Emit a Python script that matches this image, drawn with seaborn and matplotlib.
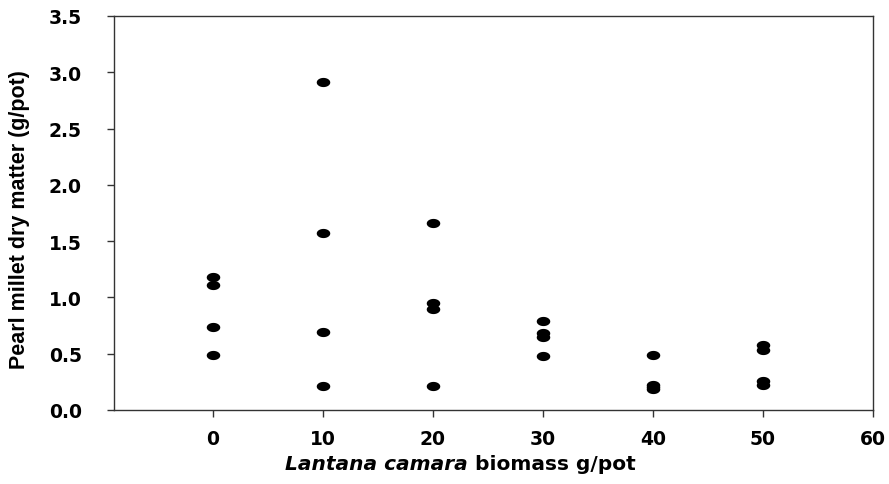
import matplotlib
matplotlib.use('Agg')
import matplotlib.pyplot as plt
import seaborn as sns
import numpy as np
import pandas as pd

# Lantana camara biomass (g/pot) and pearl millet dry matter (g/pot)
biomass = [0, 0, 0, 0,
           10, 10, 10, 10,
           20, 20, 20, 20,
           30, 30, 30, 30,
           40, 40, 40, 40,
           50, 50, 50, 50]
dry_matter = [1.18, 1.11, 0.74, 0.49,
              2.91, 1.57, 0.69, 0.21,
              1.66, 0.95, 0.90, 0.21,
              0.79, 0.68, 0.65, 0.48,
              0.49, 0.22, 0.20, 0.19,
              0.58, 0.53, 0.26, 0.22]
x_ticks = [0, 10, 20, 30, 40, 50, 60]
y_ticks = [0.0, 0.5, 1.0, 1.5, 2.0, 2.5, 3.0, 3.5]

df = pd.DataFrame({'biomass': biomass, 'dry_matter': dry_matter})

sns.set_style('ticks')
plt.rcParams['font.family'] = ['DejaVu Sans']
plt.rcParams['text.color'] = 'black'
plt.rcParams['xtick.color'] = 'black'
plt.rcParams['ytick.color'] = 'black'

fig = plt.figure(figsize=(8.89, 4.85), dpi=100)
ax = fig.add_axes([0.128, 0.1526, 0.854, 0.8124])

# ellipse marker, wider than tall
t = np.linspace(0, 2 * np.pi, 40)
ellipse = list(zip(np.cos(t), 0.68 * np.sin(t)))

sns.scatterplot(data=df, x='biomass', y='dry_matter', ax=ax, marker=ellipse,
                s=95, color='black', edgecolor='black', linewidth=0, legend=False)

ax.set_xlim(-9, 60)
ax.set_ylim(0, 3.5)
ax.set_xticks(x_ticks)
ax.set_yticks(y_ticks)
ax.set_xticklabels([str(v) for v in x_ticks], fontweight='bold', fontsize=13.5)
ax.set_yticklabels([f'{v:.1f}' for v in y_ticks], fontweight='bold', fontsize=13.5)
ax.tick_params(direction='out', length=5, width=1, color='#333333',
               labelcolor='black')
ax.tick_params(axis='x', pad=9)
ax.tick_params(axis='y', pad=18)
for sp in ax.spines.values():
    sp.set_visible(True)
    sp.set_linewidth(1)
    sp.set_color('#333333')
ax.set_xlabel('')
ax.set_ylabel('Pearl millet dry matter (g/pot)', fontsize=15.5, fontweight='bold',
              color='black', family=['Liberation Sans Narrow', 'Liberation Sans'])
ax.yaxis.set_label_coords(-0.111, 0.485)

# x label with italic species name, built from two texts placed side by side
renderer = fig.canvas.get_renderer()
t1 = fig.text(0, 0.03, 'Lantana camara', fontsize=14.5, fontweight='bold',
              fontstyle='italic', ha='left', va='baseline')
t2 = fig.text(0, 0.03, ' biomass g/pot', fontsize=14.5, fontweight='bold',
              ha='left', va='baseline')
w1 = t1.get_window_extent(renderer).width / fig.bbox.width
w2 = t2.get_window_extent(renderer).width / fig.bbox.width
x0 = 460 / 889 - (w1 + w2) / 2
t1.set_x(x0)
t2.set_x(x0 + w1)

fig.savefig('out.png', dpi=100)
